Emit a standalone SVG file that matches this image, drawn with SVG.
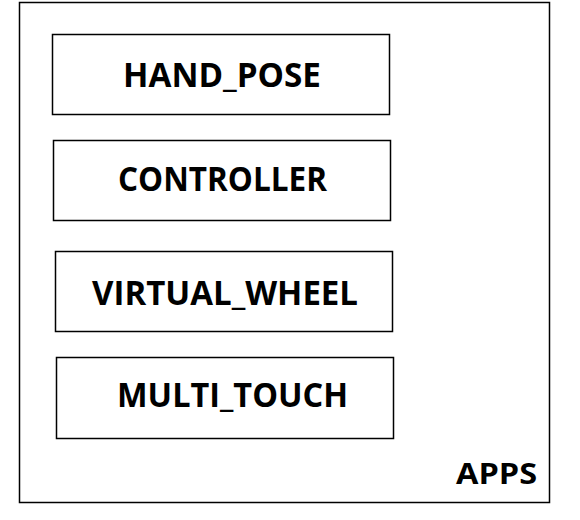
<svg xmlns="http://www.w3.org/2000/svg" width="580" height="520" viewBox="0 0 580 520">
<style>
.box{fill:#fff;stroke:#000;stroke-width:1.5}
.lbl{font-family:"Open Sans","DejaVu Sans",sans-serif;font-weight:bold;font-size:33.5px;fill:#000}
</style>
<rect width="580" height="520" fill="#fff"/>
<g id="apps">
<rect class="box" x="19.5" y="2.5" width="530" height="500"/>
<text class="lbl" x="456" y="484" style="font-size:29px" textLength="81" lengthAdjust="spacingAndGlyphs">APPS</text>
</g>
<g id="hand_pose">
<rect class="box" x="52.5" y="34.5" width="337" height="80"/>
<text class="lbl" x="123" y="87" textLength="198" lengthAdjust="spacingAndGlyphs">HAND_POSE</text>
</g>
<g id="controller">
<rect class="box" x="53.5" y="140.5" width="337" height="80"/>
<text class="lbl" x="118" y="191" textLength="209" lengthAdjust="spacingAndGlyphs">CONTROLLER</text>
</g>
<g id="virtual_wheel">
<rect class="box" x="55.5" y="251.5" width="337" height="80"/>
<text class="lbl" x="92" y="305" textLength="266" lengthAdjust="spacingAndGlyphs">VIRTUAL_WHEEL</text>
</g>
<g id="multi_touch">
<rect class="box" x="56.5" y="357.5" width="337" height="81"/>
<text class="lbl" x="117" y="407" textLength="231" lengthAdjust="spacingAndGlyphs">MULTI_TOUCH</text>
</g>
<g id="connectors"/>
</svg>
